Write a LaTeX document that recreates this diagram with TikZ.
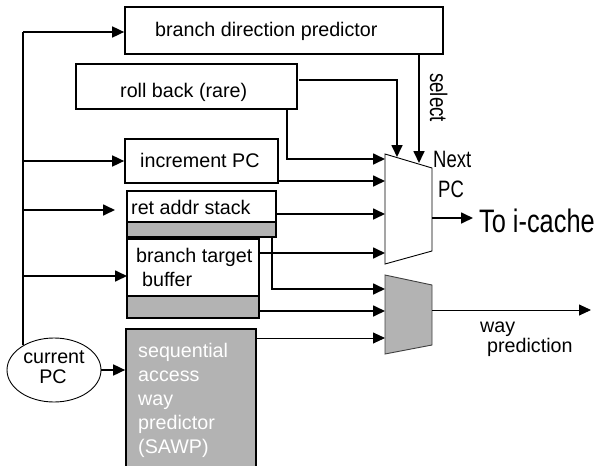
\documentclass[tikz,border=0pt]{standalone}
\usepackage{fontspec}
\setmainfont{Liberation Sans}
\newfontfamily\condf[FakeStretch=0.78]{Liberation Sans}
\usetikzlibrary{arrows.meta,shapes.geometric}
\definecolor{boxgray}{RGB}{179,179,179}
\begin{document}
\begin{tikzpicture}[x=1pt,y=-1pt,
  box/.style={draw, line width=1.7pt, inner sep=0pt, fill=white},
  gbox/.style={draw, line width=1.7pt, inner sep=0pt, fill=boxgray},
  lbl/.style={inner sep=0pt, anchor=base west, font=\fontsize{19.7}{23}\selectfont},
  clbl/.style={inner sep=0pt, anchor=base west, font=\condf\fontsize{23.7}{27}\selectfont},
  wire/.style={line width=1.7pt},
  arr/.style={wire, -{Triangle[length=12pt,width=11pt]}},
  thinarr/.style={line width=0.9pt, -{Triangle[length=12pt,width=11pt]}}]
\useasboundingbox (0,0) rectangle (600,466);
% boxes
\node[box, minimum width=318pt, minimum height=47pt] (bdp) at (284,30.5) {};
\node[lbl] (bdpT) at (155,36) {branch direction predictor};
\node[box, minimum width=221pt, minimum height=45pt] (rb) at (186.5,86.5) {};
\node[lbl] (rbT) at (120,97) {roll back (rare)};
\node[box, minimum width=153pt, minimum height=44pt] (inc) at (201.5,161) {};
\node[lbl] (incT) at (140,167) {increment PC};
\node[box, minimum width=149pt, minimum height=31pt] (ras) at (201.5,206.5) {};
\node[gbox, minimum width=149pt, minimum height=15pt] (rasG) at (201.5,229.5) {};
\node[lbl] (rasT) at (131,214) {ret addr stack};
\node[box, minimum width=132pt, minimum height=57pt] (btb) at (193,267.5) {};
\node[gbox, minimum width=132pt, minimum height=22pt] (btbG) at (193,307) {};
\node[lbl] (btbT1) at (136,262) {branch target};
\node[lbl] (btbT2) at (142,286) {buffer};
\node[gbox, minimum width=130pt, minimum height=145pt] (sawp) at (191,401.5) {};
\foreach \t [count=\i] in {sequential,access,way,predictor,{(SAWP)}}
  \node[lbl, text=white] (sawpT\i) at (138,333+24*\i) {\t};
\node[draw, ellipse, line width=0.9pt, minimum width=94pt, minimum height=64pt, inner sep=0pt] (cpc) at (54,370) {};
\node[inner sep=0pt, anchor=base, font=\fontsize{19.7}{23}\selectfont] (cpcT1) at (54,363) {current};
\node[inner sep=0pt, anchor=base, font=\fontsize{19.7}{23}\selectfont] (cpcT2) at (53,383) {PC};
% muxes
\coordinate (m1a) at (385,154); \coordinate (m1b) at (432,168);
\coordinate (m1c) at (432,251); \coordinate (m1d) at (385,264);
\draw[line width=0.9pt, fill=white] (m1a) -- (m1b) -- (m1c) -- (m1d) -- cycle;
\coordinate (m2a) at (385,275); \coordinate (m2b) at (432,285);
\coordinate (m2c) at (432,345); \coordinate (m2d) at (385,354);
\draw[line width=0.9pt, draw=black!75, fill=boxgray] (m2a) -- (m2b) -- (m2c) -- (m2d) -- cycle;
% bus
\coordinate (busT) at (23,32); \coordinate (busB) at (23,345);
\draw[wire] (busT) -- (busB);
\draw[arr] (busT) -- (bdp.west |- busT);
\draw[arr] (busB |- inc.west) -- (inc.west);
\coordinate (rasIn) at (115,210);
\draw[arr] (busB |- rasIn) -- (rasIn);
\coordinate (btbIn) at (127,276);
\draw[arr] (busB |- btbIn) -- (btbIn);
\draw[arr] (cpc.east) -- (sawp.west |- cpc.east);
% mux 1 inputs
\coordinate (rbOut) at (287,109);
\coordinate (m1i1) at (385,159);
\draw[arr] (rbOut) |- (m1i1);
\coordinate (m1i2) at (385,181);
\draw[arr] (inc.east |- m1i2) -- (m1i2);
\coordinate (m1i3) at (385,214);
\draw[arr] (ras.east |- m1i3) -- (m1i3);
\coordinate (m1i4) at (385,253);
\draw[arr] (btb.east |- m1i4) -- (m1i4);
\coordinate (rbR) at (299,80);
\coordinate (m1t1) at (397,157);
\draw[arr] (rbR) -| (m1t1);
\coordinate (m1t2) at (419,163);
\draw[arr] (bdp.south -| m1t2) -- (m1t2);
\node[clbl, rotate=-90, font=\condf\fontsize{24}{27}\selectfont] (selT) at (430,73) {select};
% mux 2 inputs
\coordinate (rasGOut) at (272,237);
\coordinate (m2i1) at (385,289);
\draw[arr] (rasGOut) |- (m2i1);
\coordinate (m2i2) at (385,311);
\draw[arr] (btbG.east |- m2i2) -- (m2i2);
\coordinate (m2i3) at (385,338);
\draw[thinarr] (sawp.east |- m2i3) -- (m2i3);
% outputs
\coordinate (m1o) at (432,218); \coordinate (icache) at (473,218);
\draw[arr] (m1o) -- (icache);
\node[inner sep=0pt, anchor=base west, font=\condf\fontsize{32.5}{36}\selectfont] (icT) at (479,232) {To i-cache};
\node[clbl] (nextT) at (433,167) {Next};
\node[clbl] (pcT) at (438,197) {PC};
\coordinate (m2o) at (432,310); \coordinate (wayp) at (591,310);
\draw[thinarr] (m2o) -- (wayp);
\node[lbl] (wayT) at (480,332) {way};
\node[lbl] (predT) at (487,352) {prediction};
\end{tikzpicture}
\end{document}
